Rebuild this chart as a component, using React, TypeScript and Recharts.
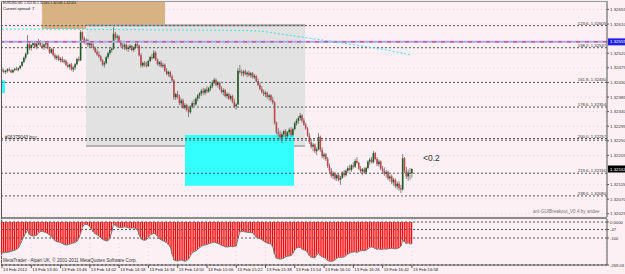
import React from 'react';
import { ComposedChart, Bar, Line, XAxis, YAxis, ReferenceLine, ReferenceArea, CartesianGrid } from 'recharts';

// prices are stored as points above 1.32000 (1 point = 0.00001)
const BASE = 1.32;

const timeTicks = [0, 16, 32, 48, 64, 80, 96, 112, 128, 144, 160, 176, 192, 208, 224];
const timeLabels = [
  '13 Feb 2012', '13 Feb 13:30', '13 Feb 13:46', '13 Feb 14:02', '13 Feb 14:18', '13 Feb 14:34',
  '13 Feb 14:50', '13 Feb 15:06', '13 Feb 15:22', '13 Feb 15:38', '13 Feb 15:54', '13 Feb 16:10',
  '13 Feb 16:26', '13 Feb 16:42', '13 Feb 16:58',
];

const opens = [
  470, 466, 462, 465, 470, 467, 461, 468, 472, 469, 474, 481, 493, 506, 518, 548, 536, 545, 551, 540,
  549, 556, 544, 538, 547, 551, 535, 522, 532, 514, 505, 510, 499, 503, 494, 497, 484, 478, 485, 470,
  476, 486, 502, 498, 585, 566, 554, 560, 545, 550, 541, 536, 524, 516, 510, 498, 485, 490, 508, 520,
  530, 534, 580, 568, 572, 556, 544, 540, 546, 533, 538, 542, 530, 536, 548, 544, 514, 482, 490, 484,
  480, 496, 508, 505, 522, 500, 486, 492, 480, 484, 466, 456, 462, 448, 436, 384, 394, 386, 366, 374,
  352, 360, 345, 338, 355, 366, 362, 380, 390, 396, 404, 398, 408, 402, 412, 418, 430, 438, 422, 428,
  410, 400, 406, 388, 394, 380, 388, 370, 356, 362, 466, 462, 458, 464, 455, 460, 452, 458, 446, 450,
  434, 422, 410, 400, 394, 398, 385, 390, 376, 368, 306, 276, 270, 260, 270, 280, 264, 276, 284, 268,
  286, 304, 312, 320, 328, 312, 300, 288, 266, 246, 232, 238, 218, 224, 262, 222, 202, 208, 194, 172,
  158, 142, 150, 134, 144, 130, 136, 152, 144, 158, 166, 160, 174, 170, 188, 182, 164, 156, 162, 152,
  166, 186, 192, 184, 212, 194, 178, 186, 164, 156, 148, 154, 134, 140, 122, 130, 110, 118, 104, 100,
  196, 156, 140, 152, 150,
];
const highs = [
  478, 472, 468, 474, 476, 471, 470, 475, 478, 476, 484, 496, 510, 522, 576, 556, 548, 556, 558, 552,
  564, 560, 552, 550, 556, 555, 540, 536, 538, 520, 515, 516, 508, 510, 502, 500, 492, 488, 490, 480,
  490, 506, 510, 592, 588, 572, 566, 564, 556, 558, 550, 540, 532, 526, 514, 502, 496, 512, 524, 536,
  538, 601, 586, 578, 576, 560, 552, 550, 550, 544, 548, 546, 540, 552, 556, 546, 520, 494, 496, 494,
  500, 512, 518, 530, 526, 504, 496, 498, 490, 488, 474, 466, 466, 454, 440, 398, 404, 392, 380, 380,
  366, 364, 356, 360, 372, 378, 384, 394, 400, 410, 414, 412, 418, 416, 424, 436, 444, 442, 434, 432,
  418, 412, 410, 400, 398, 392, 392, 380, 366, 474, 484, 470, 468, 470, 464, 466, 462, 462, 456, 452,
  442, 430, 418, 408, 404, 402, 394, 394, 386, 372, 310, 290, 282, 276, 284, 286, 280, 290, 292, 290,
  310, 318, 326, 336, 332, 320, 306, 292, 274, 256, 244, 242, 230, 274, 266, 230, 214, 212, 200, 180,
  166, 156, 154, 148, 150, 142, 156, 160, 162, 172, 176, 178, 184, 194, 200, 186, 172, 166, 168, 170,
  190, 198, 200, 219, 216, 200, 192, 190, 172, 168, 160, 158, 146, 146, 136, 134, 124, 126, 114, 209,
  200, 170, 162, 166, 165,
];
const lows = [
  462, 458, 456, 460, 463, 459, 458, 464, 466, 464, 470, 478, 489, 500, 515, 530, 528, 538, 536, 532,
  544, 540, 534, 530, 540, 532, 518, 518, 510, 500, 498, 496, 492, 490, 488, 480, 474, 470, 466, 462,
  468, 482, 494, 496, 560, 548, 546, 540, 538, 536, 530, 520, 512, 505, 494, 480, 476, 486, 502, 514,
  522, 530, 562, 556, 552, 538, 532, 530, 528, 524, 530, 526, 524, 532, 540, 510, 476, 476, 478, 476,
  478, 492, 500, 502, 496, 482, 478, 476, 474, 462, 452, 448, 444, 430, 376, 376, 380, 360, 356, 348,
  346, 340, 323, 334, 350, 356, 358, 372, 380, 388, 392, 390, 396, 398, 404, 412, 424, 418, 414, 406,
  396, 390, 384, 380, 376, 374, 366, 352, 345, 360, 456, 450, 448, 452, 446, 448, 444, 442, 440, 430,
  418, 406, 396, 388, 384, 380, 374, 370, 362, 300, 270, 262, 252, 243, 262, 258, 256, 268, 262, 264,
  282, 296, 302, 312, 306, 296, 284, 262, 240, 226, 218, 212, 206, 220, 216, 196, 192, 188, 166, 150,
  136, 132, 128, 126, 124, 114, 132, 138, 140, 150, 156, 154, 164, 166, 178, 160, 150, 144, 148, 146,
  162, 176, 180, 180, 190, 172, 170, 160, 150, 142, 136, 128, 124, 116, 112, 104, 100, 96, 89, 96,
  150, 132, 126, 130, 136,
];
const closes = [
  466, 462, 465, 470, 467, 461, 468, 472, 469, 474, 481, 493, 506, 518, 548, 536, 545, 551, 540, 549,
  556, 544, 538, 547, 551, 535, 522, 532, 514, 505, 510, 499, 503, 494, 497, 484, 478, 485, 470, 476,
  486, 502, 498, 585, 566, 554, 560, 545, 550, 541, 536, 524, 516, 510, 498, 485, 490, 508, 520, 530,
  534, 580, 568, 572, 556, 544, 540, 546, 533, 538, 542, 530, 536, 548, 544, 514, 482, 490, 484, 480,
  496, 508, 505, 522, 500, 486, 492, 480, 484, 466, 456, 462, 448, 436, 384, 394, 386, 366, 374, 352,
  360, 345, 338, 355, 366, 362, 380, 390, 396, 404, 398, 408, 402, 412, 418, 430, 438, 422, 428, 410,
  400, 406, 388, 394, 380, 388, 370, 356, 362, 466, 462, 458, 464, 455, 460, 452, 458, 446, 450, 434,
  422, 410, 400, 394, 398, 385, 390, 376, 368, 306, 276, 270, 260, 270, 280, 264, 276, 284, 268, 286,
  304, 312, 320, 328, 312, 300, 288, 266, 246, 232, 238, 218, 224, 262, 222, 202, 208, 194, 172, 158,
  142, 150, 134, 144, 130, 136, 152, 144, 158, 166, 160, 174, 170, 188, 182, 164, 156, 162, 152, 166,
  186, 192, 184, 212, 194, 178, 186, 164, 156, 148, 154, 134, 140, 122, 130, 110, 118, 104, 100, 196,
  156, 140, 152, 150, 163,
];

// oscillator (bottom window)
const oscValues = [
  -194, -192, -190, -189, -187, -184, -180, -176, -170, -162, -140, -112, -90, -70, -50, -78, -84, -88, -86, -82,
  -66, -60, -58, -62, -66, -72, -81, -92, -105, -116, -122, -125, -128, -134, -140, -144, -142, -138, -134, -131,
  -128, -120, -100, -68, -30, -15, -14, -18, -28, -45, -62, -74, -80, -88, -98, -108, -114, -118, -116, -100,
  -60, -10, -22, -30, -33, -35, -33, -30, -32, -36, -38, -37, -36, -40, -48, -80, -105, -112, -114, -110,
  -96, -80, -75, -70, -76, -88, -104, -112, -118, -122, -130, -140, -156, -200, -238, -242, -244, -240, -238, -242,
  -245, -240, -232, -210, -192, -186, -180, -170, -160, -152, -146, -144, -140, -136, -132, -128, -126, -130, -134, -138,
  -146, -150, -155, -156, -154, -152, -155, -152, -150, -100, -62, -58, -60, -62, -64, -65, -66, -68, -80, -96,
  -100, -104, -110, -118, -126, -132, -135, -138, -156, -200, -226, -230, -232, -230, -226, -218, -214, -212, -210, -195,
  -175, -162, -158, -160, -170, -175, -178, -190, -210, -220, -222, -224, -205, -195, -210, -218, -222, -228, -240, -245,
  -246, -244, -236, -226, -222, -220, -222, -218, -210, -200, -194, -190, -188, -186, -190, -184, -180, -178, -180, -176,
  -168, -158, -156, -160, -166, -170, -168, -172, -170, -168, -170, -166, -165, -164, -166, -168, -165, -162, -150, -112,
  -125, -135, -130, -138, -135,
];

// cyan average line, read at a few bars
const maIndex = [0, 30, 60, 90, 120, 141, 150, 170, 190, 210, 224];
const maValues = [594, 594, 593, 592, 591, 588, 581, 565, 548, 530, 514];

const priceTicks = [655, 610, 520, 475, 430, 385, 340, 295, 250, 205, 115, 70, 25];
const fibNames = ['123.6', '138.2', '161.8', '178.6', '200.0', '223.6', '238.6'];
const fibPrices = [605, 537, 430, 354, 257, 150, 80];
const linePrice = 555;
const bidPrice = 163;
const oscTicks = [0, -47, -100, -269];
const oscTickLabels = ['0.0000', '-47', '-100', '-269.03'];

const BG = '#FCF0F4';
const FONT = '"Liberation Sans", Arial, sans-serif';
const X_DOMAIN: [number, number] = [-0.55, 330.6];

const fmt = (v: number) => (BASE + v / 100000).toFixed(5);

const rows = closes.map((c, i) => {
  const k = maIndex.indexOf(i);
  return {
    i,
    open: opens[i],
    high: highs[i],
    low: lows[i],
    close: c,
    osc: oscValues[i],
    ma: k >= 0 ? maValues[k] : null,
  };
});

const Candle = (props: any) => {
  const { x, y, width, height, payload } = props;
  if (x == null || y == null) return null;
  const top = Math.min(y, y + height);
  const h = Math.abs(height);
  const cx = x + width / 2;
  const span = Math.max(payload.high - payload.low, 0.0001);
  const per = h / span;
  const bTop = top + (payload.high - Math.max(payload.open, payload.close)) * per;
  const bBot = top + (payload.high - Math.min(payload.open, payload.close)) * per;
  const up = payload.close >= payload.open;
  return (
    <g>
      <line x1={cx} x2={cx} y1={top} y2={top + h} stroke="#6b6b6b" strokeWidth={0.8} />
      <rect x={cx - 0.8} y={bTop} width={1.6} height={Math.max(bBot - bTop, 0.8)} fill={up ? '#1d5e22' : '#c4474f'} />
    </g>
  );
};

const PriceTick = (props: any) => {
  const { x, y, payload } = props;
  return (
    <g>
      <line x1={x} x2={x + 2} y1={y} y2={y} stroke="#555" />
      <text x={x + 3} y={y + 1.5} fontSize={4.4} fill="#333" fontFamily={FONT}>{fmt(payload.value)}</text>
    </g>
  );
};

const OscTick = (props: any) => {
  const { x, y, payload } = props;
  const k = oscTicks.indexOf(payload.value);
  return (
    <g>
      <line x1={x} x2={x + 2} y1={y} y2={y} stroke="#555" />
      <text x={x + 3} y={y + 1.5} fontSize={4.2} fill="#333" fontFamily={FONT}>{oscTickLabels[k]}</text>
    </g>
  );
};

const TimeTick = (props: any) => {
  const { x, y, payload } = props;
  const k = timeTicks.indexOf(payload.value);
  return (
    <g>
      <line x1={x} x2={x} y1={y} y2={y + 3} stroke="#555" />
      <text x={x + 1} y={y + 6.3} fontSize={4.3} fill="#222" fontFamily={FONT}>{timeLabels[k]}</text>
    </g>
  );
};

const RightLabel = (props: any) => {
  const { viewBox, text } = props;
  if (!viewBox) return null;
  return (
    <text x={viewBox.x + viewBox.width - 1} y={viewBox.y - 1} textAnchor="end" fontSize={4.2} fill="#333" fontFamily={FONT}>
      {text}
    </text>
  );
};

const LeftLabel = (props: any) => {
  const { viewBox, text } = props;
  if (!viewBox) return null;
  return (
    <text x={viewBox.x + 4} y={viewBox.y - 1} fontSize={4.6} fill="#333" fontFamily={FONT}>
      {text}
    </text>
  );
};

const PriceFlag = (props: any) => {
  const { viewBox, text, color } = props;
  if (!viewBox) return null;
  const x = viewBox.x + viewBox.width + 1;
  return (
    <g>
      <rect x={x} y={viewBox.y - 3.5} width={20} height={7} fill={color} />
      <text x={x + 2} y={viewBox.y + 1.6} fontSize={4.4} fill="#fff" fontFamily={FONT}>{text}</text>
    </g>
  );
};

export default function App() {
  return (
    <div style={{ position: 'fixed', left: 0, top: 0, width: 625, height: 274, background: BG, overflow: 'hidden', fontFamily: FONT }}>
      <div style={{ position: 'absolute', left: 0, top: 0 }}>
        <ComposedChart width={625} height={218} data={rows} margin={{ top: 1, right: 0, bottom: 1, left: 1 }}>
          <CartesianGrid stroke="#e9d6dd" strokeDasharray="1 3" />
          <XAxis dataKey="i" type="number" domain={X_DOMAIN} allowDataOverflow ticks={timeTicks} tick={false} tickLine={false} axisLine={false} height={0} />
          <YAxis orientation="right" width={18} domain={[15, 681]} allowDataOverflow ticks={priceTicks} interval={0} tick={<PriceTick />} tickLine={false} tickSize={0} tickMargin={0} axisLine={{ stroke: '#555' }} />
          <ReferenceArea x1={21.9} x2={89.1} y1={595} y2={681} fill="#d8b282" fillOpacity={1} stroke="none" ifOverflow="hidden" />
          <ReferenceArea x1={45.9} x2={165.6} y1={234} y2={607} fill="#e2e2e2" fillOpacity={1} stroke="none" />
          <ReferenceArea x1={45.9} x2={165.6} y1={603} y2={609} fill="#a9a9a9" fillOpacity={1} stroke="none" />
          <ReferenceArea x1={45.9} x2={165.6} y1={231} y2={237} fill="#b3b3b3" fillOpacity={1} stroke="none" />
          <ReferenceArea x1={100} x2={159.6} y1={111} y2={268} fill="#33ffff" fillOpacity={1} stroke="none" />
          <ReferenceArea x1={-0.55} x2={1.6} y1={397} y2={437} fill="#33ffff" fillOpacity={1} stroke="none" />
          {fibPrices.map((p, k) => (
            <ReferenceLine key={p} y={p} stroke="#555" strokeDasharray="2 2" label={<RightLabel text={`${fibNames[k]}- ${fmt(p)}`} />} />
          ))}
          <ReferenceLine y={252} stroke="#555" strokeDasharray="2 2" label={<LeftLabel text="#26379043 buy" />} />
          <ReferenceLine y={linePrice} stroke="#a9a9ff" strokeWidth={2} label={<PriceFlag text={fmt(linePrice)} color="#1f1fe0" />} />
          <ReferenceLine y={linePrice} stroke="#e03040" strokeWidth={1} strokeDasharray="4 5" />
          <ReferenceLine y={bidPrice} stroke="none" label={<PriceFlag text={fmt(bidPrice)} color="#000" />} />
          <Bar dataKey={(d: any) => [d.low, d.high]} shape={<Candle />} barSize={2} isAnimationActive={false} />
          <Line dataKey="ma" type="monotone" stroke="#45e0ea" strokeWidth={1} strokeDasharray="2 2" dot={false} connectNulls isAnimationActive={false} />
        </ComposedChart>
      </div>
      <div style={{ position: 'absolute', left: 1, top: 217, width: 606, height: 2, background: '#8c8c8c' }} />
      <div style={{ position: 'absolute', left: 1, top: 1, width: 1, height: 264, background: '#555' }} />
      <div style={{ position: 'absolute', left: 1, top: 1, width: 606, height: 1, background: '#9a9a9a' }} />
      <div style={{ position: 'absolute', left: 0, top: 219 }}>
        <ComposedChart width={625} height={55} data={rows} margin={{ top: 0, right: 0, bottom: 0, left: 1 }}>
          <CartesianGrid stroke="#e9d6dd" strokeDasharray="1 3" horizontal={false} />
          <XAxis dataKey="i" type="number" domain={X_DOMAIN} allowDataOverflow ticks={timeTicks} interval={0} tick={<TimeTick />} tickLine={false} tickSize={0} tickMargin={0} axisLine={{ stroke: '#555' }} height={9} />
          <YAxis orientation="right" width={18} domain={[-269, 19]} allowDataOverflow ticks={oscTicks} interval={0} tick={<OscTick />} tickLine={false} tickSize={0} tickMargin={0} axisLine={{ stroke: '#555' }} />
          {oscTicks.map((t) => (
            <ReferenceLine key={t} y={t} stroke="#555" strokeDasharray="2 2" />
          ))}
          <Bar dataKey="osc" fill="#ff0000" barSize={1.2} isAnimationActive={false} />
          <Line dataKey="osc" type="linear" stroke="#777" strokeWidth={1} dot={false} isAnimationActive={false} />
        </ComposedChart>
      </div>
      <div style={{ position: 'absolute', left: 3, top: 1, fontSize: 3.4, lineHeight: '5px', color: '#111', whiteSpace: 'nowrap' }}>
        EURUSD,M1  1.32130 1.32165 1.32136 1.32163
      </div>
      <div style={{ position: 'absolute', left: 3, top: 6, fontSize: 4, lineHeight: '5px', color: '#111', whiteSpace: 'nowrap' }}>
        Current spread: 7
      </div>
      <div style={{ position: 'absolute', left: 423, top: 153, fontSize: 8.5, color: '#333' }}>{'<0.2'}</div>
      <div style={{ position: 'absolute', left: 533, top: 209, fontSize: 4.6, color: '#777', whiteSpace: 'nowrap' }}>ant-GUIBreakout_V0.4 by andee</div>
      <div style={{ position: 'absolute', left: 3, top: 258, fontSize: 4.6, color: '#333', whiteSpace: 'nowrap' }}>
        MetaTrader - Alpari UK, © 2001-2011 MetaQuotes Software Corp.
      </div>
    </div>
  );
}
